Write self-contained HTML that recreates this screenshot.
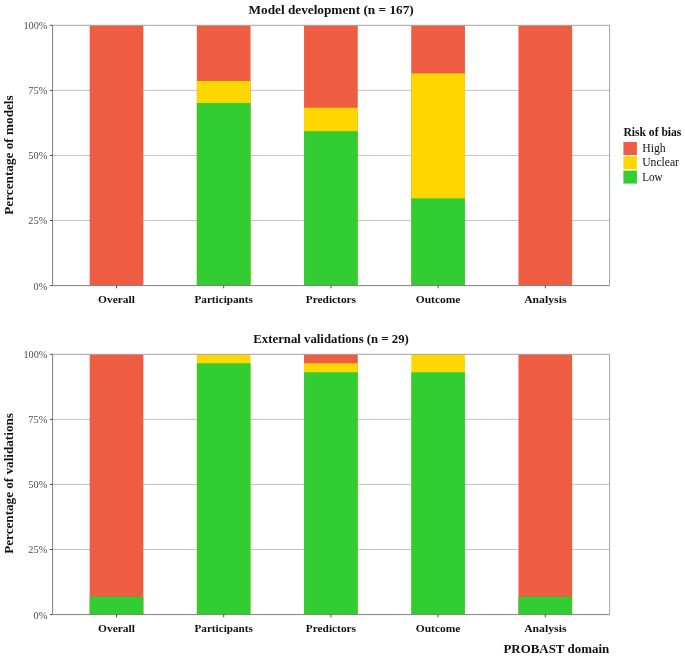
<!DOCTYPE html>
<html lang="en"><head><meta charset="utf-8"><title>Risk of bias</title>
<style>
html,body{margin:0;padding:0;background:#fff;}
body{width:685px;height:656px;overflow:hidden;font-family:"Liberation Serif",serif;}
svg{display:block;font-family:"Liberation Serif",serif;}
.b{font-weight:bold;fill:#111;}
.t{fill:#4d4d4d;}
</style></head><body>
<svg width="685" height="656" viewBox="0 0 685 656">
<rect width="685" height="656" fill="#fff"/>
<line x1="52.6" x2="609.6" y1="220.53" y2="220.53" stroke="#bcbcbc" stroke-width="0.9"/>
<line x1="52.6" x2="609.6" y1="155.45" y2="155.45" stroke="#bcbcbc" stroke-width="0.9"/>
<line x1="52.6" x2="609.6" y1="90.38" y2="90.38" stroke="#bcbcbc" stroke-width="0.9"/>
<rect x="89.65" y="25.30" width="53.70" height="260.30" fill="#EE5C42"/>
<rect x="196.85" y="25.30" width="53.70" height="260.30" fill="#EE5C42"/>
<rect x="196.85" y="80.98" width="53.70" height="204.62" fill="#FFD700"/>
<rect x="196.85" y="102.97" width="53.70" height="182.63" fill="#32CD32"/>
<rect x="304.05" y="25.30" width="53.70" height="260.30" fill="#EE5C42"/>
<rect x="304.05" y="107.76" width="53.70" height="177.84" fill="#FFD700"/>
<rect x="304.05" y="131.16" width="53.70" height="154.44" fill="#32CD32"/>
<rect x="411.25" y="25.30" width="53.70" height="260.30" fill="#EE5C42"/>
<rect x="411.25" y="73.38" width="53.70" height="212.22" fill="#FFD700"/>
<rect x="411.25" y="198.32" width="53.70" height="87.28" fill="#32CD32"/>
<rect x="518.45" y="25.30" width="53.70" height="260.30" fill="#EE5C42"/>
<path d="M52.6 25.3H609.6V285.6" fill="none" stroke="#a3a3a3" stroke-width="1"/>
<path d="M52.6 25.3V285.6H609.6" fill="none" stroke="#808080" stroke-width="1"/>
<line x1="49.9" x2="52.6" y1="285.60" y2="285.60" stroke="#4a4a4a" stroke-width="1"/>
<text class="t" x="47.3" y="289.50" font-size="11" text-anchor="end" textLength="13.8" lengthAdjust="spacingAndGlyphs">0%</text>
<line x1="49.9" x2="52.6" y1="220.53" y2="220.53" stroke="#4a4a4a" stroke-width="1"/>
<text class="t" x="47.3" y="224.43" font-size="11" text-anchor="end" textLength="19.0" lengthAdjust="spacingAndGlyphs">25%</text>
<line x1="49.9" x2="52.6" y1="155.45" y2="155.45" stroke="#4a4a4a" stroke-width="1"/>
<text class="t" x="47.3" y="159.35" font-size="11" text-anchor="end" textLength="19.0" lengthAdjust="spacingAndGlyphs">50%</text>
<line x1="49.9" x2="52.6" y1="90.38" y2="90.38" stroke="#4a4a4a" stroke-width="1"/>
<text class="t" x="47.3" y="94.28" font-size="11" text-anchor="end" textLength="19.0" lengthAdjust="spacingAndGlyphs">75%</text>
<line x1="49.9" x2="52.6" y1="25.30" y2="25.30" stroke="#4a4a4a" stroke-width="1"/>
<text class="t" x="47.3" y="29.20" font-size="11" text-anchor="end" textLength="23.9" lengthAdjust="spacingAndGlyphs">100%</text>
<line x1="116.50" x2="116.50" y1="285.6" y2="288.3" stroke="#4a4a4a" stroke-width="1"/>
<text class="b" x="116.50" y="303.3" font-size="11.3" text-anchor="middle" textLength="36.9" lengthAdjust="spacingAndGlyphs">Overall</text>
<line x1="223.70" x2="223.70" y1="285.6" y2="288.3" stroke="#4a4a4a" stroke-width="1"/>
<text class="b" x="223.70" y="303.3" font-size="11.3" text-anchor="middle" textLength="58.5" lengthAdjust="spacingAndGlyphs">Participants</text>
<line x1="330.90" x2="330.90" y1="285.6" y2="288.3" stroke="#4a4a4a" stroke-width="1"/>
<text class="b" x="330.90" y="303.3" font-size="11.3" text-anchor="middle" textLength="50.3" lengthAdjust="spacingAndGlyphs">Predictors</text>
<line x1="438.10" x2="438.10" y1="285.6" y2="288.3" stroke="#4a4a4a" stroke-width="1"/>
<text class="b" x="438.10" y="303.3" font-size="11.3" text-anchor="middle" textLength="44.8" lengthAdjust="spacingAndGlyphs">Outcome</text>
<line x1="545.30" x2="545.30" y1="285.6" y2="288.3" stroke="#4a4a4a" stroke-width="1"/>
<text class="b" x="545.30" y="303.3" font-size="11.3" text-anchor="middle" textLength="42.3" lengthAdjust="spacingAndGlyphs">Analysis</text>
<text class="b" x="331.10" y="14.0" font-size="12.8" text-anchor="middle" textLength="165.2" lengthAdjust="spacingAndGlyphs">Model development (n = 167)</text>
<text class="b" transform="translate(13.3 155.05) rotate(-90)" font-size="12.8" text-anchor="middle" textLength="119.4" lengthAdjust="spacingAndGlyphs">Percentage of models</text>
<line x1="52.6" x2="609.6" y1="549.52" y2="549.52" stroke="#bcbcbc" stroke-width="0.9"/>
<line x1="52.6" x2="609.6" y1="484.45" y2="484.45" stroke="#bcbcbc" stroke-width="0.9"/>
<line x1="52.6" x2="609.6" y1="419.38" y2="419.38" stroke="#bcbcbc" stroke-width="0.9"/>
<rect x="89.65" y="354.30" width="53.70" height="260.30" fill="#EE5C42"/>
<rect x="89.65" y="596.64" width="53.70" height="17.96" fill="#32CD32"/>
<rect x="196.85" y="354.30" width="53.70" height="260.30" fill="#FFD700"/>
<rect x="196.85" y="363.28" width="53.70" height="251.32" fill="#32CD32"/>
<rect x="304.05" y="354.30" width="53.70" height="260.30" fill="#EE5C42"/>
<rect x="304.05" y="363.28" width="53.70" height="251.32" fill="#FFD700"/>
<rect x="304.05" y="372.26" width="53.70" height="242.34" fill="#32CD32"/>
<rect x="411.25" y="354.30" width="53.70" height="260.30" fill="#FFD700"/>
<rect x="411.25" y="372.26" width="53.70" height="242.34" fill="#32CD32"/>
<rect x="518.45" y="354.30" width="53.70" height="260.30" fill="#EE5C42"/>
<rect x="518.45" y="596.64" width="53.70" height="17.96" fill="#32CD32"/>
<path d="M52.6 354.3H609.6V614.6" fill="none" stroke="#a3a3a3" stroke-width="1"/>
<path d="M52.6 354.3V614.6H609.6" fill="none" stroke="#808080" stroke-width="1"/>
<line x1="49.9" x2="52.6" y1="614.60" y2="614.60" stroke="#4a4a4a" stroke-width="1"/>
<text class="t" x="47.3" y="618.50" font-size="11" text-anchor="end" textLength="13.8" lengthAdjust="spacingAndGlyphs">0%</text>
<line x1="49.9" x2="52.6" y1="549.52" y2="549.52" stroke="#4a4a4a" stroke-width="1"/>
<text class="t" x="47.3" y="553.42" font-size="11" text-anchor="end" textLength="19.0" lengthAdjust="spacingAndGlyphs">25%</text>
<line x1="49.9" x2="52.6" y1="484.45" y2="484.45" stroke="#4a4a4a" stroke-width="1"/>
<text class="t" x="47.3" y="488.35" font-size="11" text-anchor="end" textLength="19.0" lengthAdjust="spacingAndGlyphs">50%</text>
<line x1="49.9" x2="52.6" y1="419.38" y2="419.38" stroke="#4a4a4a" stroke-width="1"/>
<text class="t" x="47.3" y="423.27" font-size="11" text-anchor="end" textLength="19.0" lengthAdjust="spacingAndGlyphs">75%</text>
<line x1="49.9" x2="52.6" y1="354.30" y2="354.30" stroke="#4a4a4a" stroke-width="1"/>
<text class="t" x="47.3" y="358.20" font-size="11" text-anchor="end" textLength="23.9" lengthAdjust="spacingAndGlyphs">100%</text>
<line x1="116.50" x2="116.50" y1="614.6" y2="617.3000000000001" stroke="#4a4a4a" stroke-width="1"/>
<text class="b" x="116.50" y="631.7" font-size="11.3" text-anchor="middle" textLength="36.9" lengthAdjust="spacingAndGlyphs">Overall</text>
<line x1="223.70" x2="223.70" y1="614.6" y2="617.3000000000001" stroke="#4a4a4a" stroke-width="1"/>
<text class="b" x="223.70" y="631.7" font-size="11.3" text-anchor="middle" textLength="58.5" lengthAdjust="spacingAndGlyphs">Participants</text>
<line x1="330.90" x2="330.90" y1="614.6" y2="617.3000000000001" stroke="#4a4a4a" stroke-width="1"/>
<text class="b" x="330.90" y="631.7" font-size="11.3" text-anchor="middle" textLength="50.3" lengthAdjust="spacingAndGlyphs">Predictors</text>
<line x1="438.10" x2="438.10" y1="614.6" y2="617.3000000000001" stroke="#4a4a4a" stroke-width="1"/>
<text class="b" x="438.10" y="631.7" font-size="11.3" text-anchor="middle" textLength="44.8" lengthAdjust="spacingAndGlyphs">Outcome</text>
<line x1="545.30" x2="545.30" y1="614.6" y2="617.3000000000001" stroke="#4a4a4a" stroke-width="1"/>
<text class="b" x="545.30" y="631.7" font-size="11.3" text-anchor="middle" textLength="42.3" lengthAdjust="spacingAndGlyphs">Analysis</text>
<text class="b" x="331.10" y="343.0" font-size="12.8" text-anchor="middle" textLength="155.5" lengthAdjust="spacingAndGlyphs">External validations (n = 29)</text>
<text class="b" transform="translate(13.3 483.45) rotate(-90)" font-size="12.8" text-anchor="middle" textLength="140.7" lengthAdjust="spacingAndGlyphs">Percentage of validations</text>
<text class="b" x="609.2" y="653.2" font-size="12.8" text-anchor="end" textLength="105.8" lengthAdjust="spacingAndGlyphs">PROBAST domain</text>
<text class="b" x="623.4" y="135.6" font-size="12" textLength="58.0" lengthAdjust="spacingAndGlyphs">Risk of bias</text>
<rect x="623.4" y="142.00" width="13.5" height="13.0" fill="#EE5C42"/>
<text x="642.2" y="152.10" font-size="11.6" fill="#111" textLength="23.5" lengthAdjust="spacingAndGlyphs">High</text>
<rect x="623.4" y="156.30" width="13.5" height="13.0" fill="#FFD700"/>
<text x="642.2" y="166.40" font-size="11.6" fill="#111" textLength="36.8" lengthAdjust="spacingAndGlyphs">Unclear</text>
<rect x="623.4" y="170.60" width="13.5" height="13.0" fill="#32CD32"/>
<text x="642.2" y="180.70" font-size="11.6" fill="#111" textLength="20.5" lengthAdjust="spacingAndGlyphs">Low</text>
</svg></body></html>
